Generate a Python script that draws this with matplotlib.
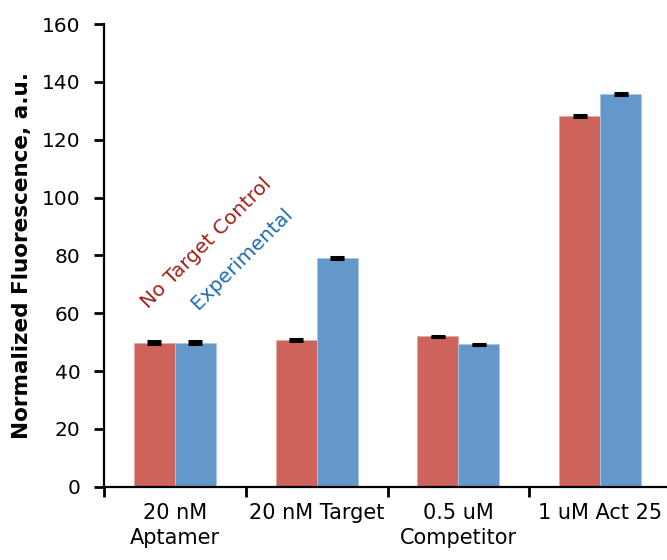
import numpy as np
import matplotlib
matplotlib.use("Agg")
import matplotlib.pyplot as plt

categorias = ["20 nM\nAptamer", "20 nM Target", "0.5 uM\nCompetitor", "1 uM Act 25"]
controle = [49.8, 50.7, 52.0, 128.2]
experimental = [49.8, 79.0, 49.2, 135.8]
erro_controle = [0.6, 0.3, 0.3, 0.3]
erro_experimental = [0.6, 0.3, 0.3, 0.3]

cor_vermelha = "#CD635B"
cor_azul = "#6497CA"

fig = plt.figure(figsize=(6.67, 5.6), dpi=100)
ax = fig.add_axes([0.156, 0.1308, 0.850, 0.8262])

x = np.arange(len(categorias))
larg = 0.29

ax.bar(x - larg / 2, controle, larg, color=cor_vermelha, edgecolor="#E3A9A4", linewidth=0.6)
ax.bar(x + larg / 2, experimental, larg, color=cor_azul, edgecolor="#A9C6E6", linewidth=0.6)
ax.errorbar(x - larg / 2, controle, yerr=erro_controle, fmt="none", ecolor="black",
            elinewidth=2, capsize=5, capthick=2.2)
ax.errorbar(x + larg / 2, experimental, yerr=erro_experimental, fmt="none", ecolor="black",
            elinewidth=2, capsize=5, capthick=2.2)

ax.set_xlim(-0.5, 3.5)
ax.set_ylim(0, 160)
ax.set_yticks(np.arange(0, 161, 20))

# rótulos no centro, marcas nas divisas entre grupos
ax.set_xticks(x)
ax.set_xticklabels(categorias, fontsize=15, linespacing=1.3)
ax.set_xticks(np.arange(-0.5, 3.6, 1), minor=True)
ax.tick_params(axis="x", which="major", length=0, pad=12)
ax.tick_params(axis="x", which="minor", length=7, width=2, direction="out")
ax.tick_params(axis="y", length=7, width=2, direction="out", labelsize=14.5, pad=10)

for lado in ["top", "right"]:
    ax.spines[lado].set_visible(False)
for lado in ["left", "bottom"]:
    ax.spines[lado].set_linewidth(1.6)

ax.set_ylabel("Normalized Fluorescence, a.u.", fontsize=15.5, fontweight="bold")
ax.yaxis.set_label_coords(-0.127, 0.5)

ax.text(-0.19, 61.4, "No Target Control", color="#A0211C", fontsize=14.5, rotation=45,
        rotation_mode="anchor", ha="left", va="baseline")
ax.text(0.163, 61.0, "Experimental", color="#1F6DB3", fontsize=14.5, rotation=45,
        rotation_mode="anchor", ha="left", va="baseline")

fig.savefig("out.png", dpi=100)
